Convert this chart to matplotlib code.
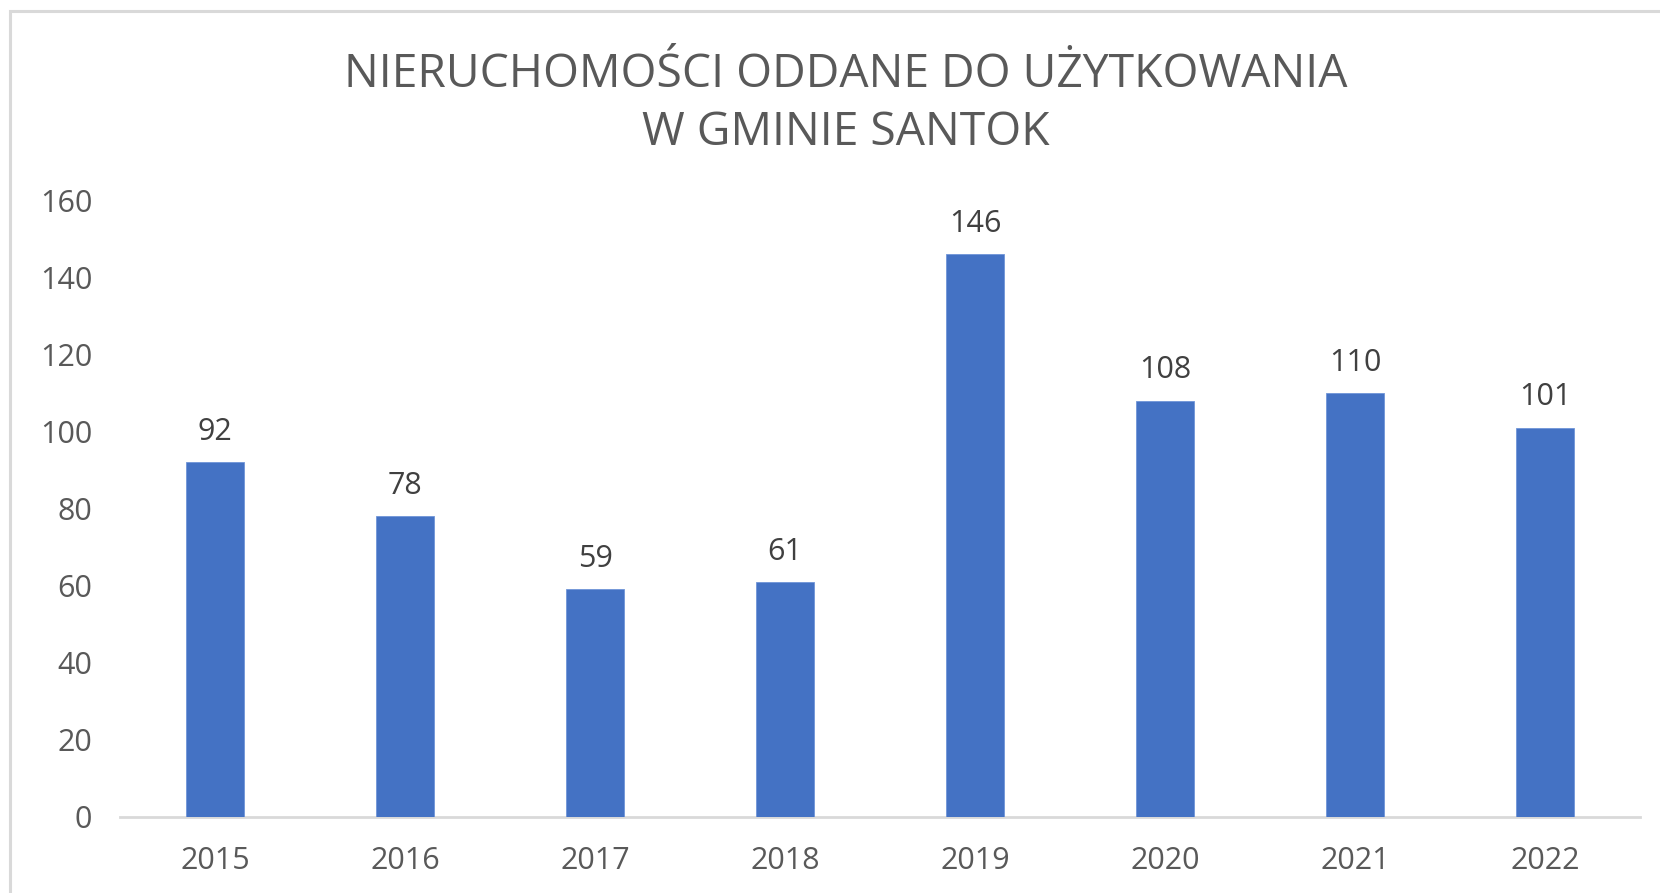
import matplotlib
matplotlib.use("Agg")
import matplotlib.pyplot as plt
from matplotlib.patches import Rectangle

years = ["2015", "2016", "2017", "2018", "2019", "2020", "2021", "2022"]
values = [92, 78, 59, 61, 146, 108, 110, 101]
yticks = [0, 20, 40, 60, 80, 100, 120, 140, 160]
title_lines = ["NIERUCHOMOŚCI ODDANE DO UŻYTKOWANIA", "W GMINIE SANTOK"]

plt.rcParams['font.family'] = ['Open Sans', 'DejaVu Sans']

W, H = 1660, 893
fig = plt.figure(figsize=(W / 100, H / 100), dpi=100)
fig.patch.set_facecolor("white")

# outer chart border (top and left visible)
fig.add_artist(Rectangle((9.5 / W, -0.1), 1.2, (H - 11.5) / H + 0.1,
                         transform=fig.transFigure, fill=False,
                         edgecolor="#d9d9d9", linewidth=2.2))

ax = fig.add_axes([120 / W, 1 - 817 / H, 1520 / W, (817 - 200) / H])
x = list(range(len(years)))
ax.bar(x, values, width=0.31, color="#4472c4", edgecolor="#6f95d8", linewidth=0.6, zorder=3)
ax.set_xlim(-0.5, len(years) - 0.5)
ax.set_ylim(0, 160)
ax.set_yticks(yticks)
ax.set_xticks(x)
ax.set_xticklabels(years)
ax.tick_params(axis="both", length=0, labelsize=22, colors="#595959")
ax.tick_params(axis="y", pad=20)
ax.tick_params(axis="x", pad=21)
for s in ["top", "right", "left"]:
    ax.spines[s].set_visible(False)
ax.spines["bottom"].set_color("#d9d9d9")
ax.spines["bottom"].set_linewidth(2)

for xi, v in zip(x, values):
    ax.annotate(str(v), (xi, v), xytext=(0, 16), textcoords="offset points",
                ha="center", va="baseline", fontsize=22, color="#404040")

cx = 0.5 * (337 + 1355) / W
fig.text(cx, 1 - 75 / H, title_lines[0], ha="center", va="center",
         fontsize=33.3, color="#595959")
fig.text(cx, 1 - 133 / H, title_lines[1], ha="center", va="center",
         fontsize=33.3, color="#595959")

fig.savefig("out.png", dpi=100)
